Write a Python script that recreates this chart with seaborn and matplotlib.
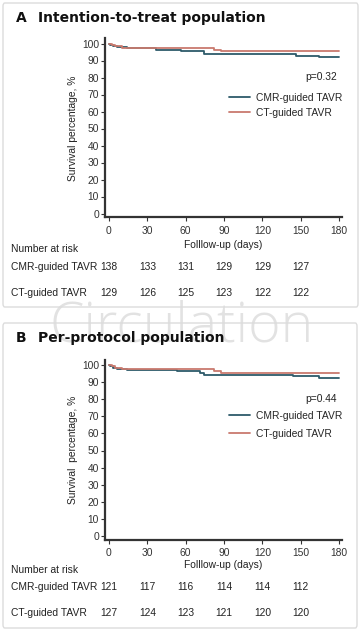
import numpy as np
import pandas as pd
import matplotlib
matplotlib.use("Agg")
import matplotlib.pyplot as plt
import seaborn as sns
import matplotlib.transforms as mtrans
from matplotlib.patches import FancyBboxPatch

groups = ["CMR-guided TAVR", "CT-guided TAVR"]

# Panel A (intention-to-treat) Kaplan-Meier steps
a_cmr_t = [0, 1, 3, 6, 14, 37, 56, 74, 146, 164, 180]
a_cmr_s = [100, 99.3, 98.6, 97.8, 97.1, 96.4, 95.6, 93.6, 92.8, 91.8, 91.8]
a_ct_t = [0, 2, 5, 10, 82, 88, 180]
a_ct_s = [100, 99.2, 98.4, 97.6, 96.4, 95.3, 95.3]

# Panel B (per-protocol)
b_cmr_t = [0, 1, 3, 6, 14, 53, 71, 74, 144, 164, 180]
b_cmr_s = [100, 99.2, 98.3, 97.5, 96.9, 96.2, 95.2, 94.3, 93.4, 92.5, 92.5]
b_ct_t = [0, 2, 5, 10, 82, 88, 180]
b_ct_s = [100, 99.2, 98.4, 97.4, 96.5, 95.4, 95.4]

risk_days = [0, 30, 60, 90, 120, 150]
a_risk_cmr = [138, 133, 131, 129, 129, 127]
a_risk_ct = [129, 126, 125, 123, 122, 122]
b_risk_cmr = [121, 117, 116, 114, 114, 112]
b_risk_ct = [127, 124, 123, 121, 120, 120]

x_ticks = [0, 30, 60, 90, 120, 150, 180]
y_ticks = [0, 10, 20, 30, 40, 50, 60, 70, 80, 90, 100]

colors = {"CMR-guided TAVR": "#2d5a6a", "CT-guided TAVR": "#c97a6e"}

sns.set_style("white")
plt.rcParams["font.family"] = ["Liberation Sans", "DejaVu Sans"]

W, H = 362, 634
fig = plt.figure(figsize=(W / 100, H / 100), dpi=100)

def fx(p):
    return p / W

def fy(p):
    return 1 - p / H

def make_df(t1, s1, t2, s2):
    d1 = pd.DataFrame({"time": t1, "surv": s1, "group": groups[0]})
    d2 = pd.DataFrame({"time": t2, "surv": s2, "group": groups[1]})
    return pd.concat([d1, d2], ignore_index=True)

panels = [
    dict(letter="A", title="Intention-to-treat population",
         df=make_df(a_cmr_t, a_cmr_s, a_ct_t, a_ct_s),
         risk=(a_risk_cmr, a_risk_ct), p="p=0.32",
         box=(3, 3, 358, 307), title_y=18, y100=43.5, y0=213.5,
         ylabel="Survival percentage, %", xlab_y=245, nar_y=249,
         r1_y=267, r2_y=293.5, p_y=77, leg_y=93, leg_sp=0.45),
    dict(letter="B", title="Per-protocol population",
         df=make_df(b_cmr_t, b_cmr_s, b_ct_t, b_ct_s),
         risk=(b_risk_cmr, b_risk_ct), p="p=0.44",
         box=(3, 323, 357, 628), title_y=338, y100=365, y0=536,
         ylabel="Survival  percentage, %", xlab_y=565, nar_y=570,
         r1_y=587, r2_y=613, p_y=399, leg_y=411, leg_sp=0.75),
]

x_lo, x_hi = -3, 182.5
y_lo, y_hi = -2.3, 103
x0_pix, x180_pix = 109, 339

# watermark
fig.text(fx(182), fy(342), "Circulation", fontsize=40, color="#e2e2e2",
         family=["Open Sans", "DejaVu Sans"], fontweight="light",
         ha="center", va="baseline", zorder=0)

FS = 7.4
TITLE_FONT = ["DejaVu Sans"]

for P in panels:
    x0, y0b, x1, y1b = P["box"]
    fig.patches.append(FancyBboxPatch((fx(x0), fy(y1b)), fx(x1 - x0), (y1b - y0b) / H,
                                      boxstyle="round,pad=0,rounding_size=0.005",
                                      transform=fig.transFigure, fill=False,
                                      edgecolor="#dcdcdc", linewidth=1.0))
    fig.text(fx(15.5), fy(P["title_y"]), P["letter"], fontsize=10, fontweight="bold",
             family=TITLE_FONT, ha="left", va="center", color="#111111")
    fig.text(fx(38), fy(P["title_y"]), P["title"], fontsize=10, fontweight="bold",
             family=TITLE_FONT, ha="left", va="center", color="#111111")

    ppx = (x180_pix - x0_pix) / 180.0
    ppy = (P["y0"] - P["y100"]) / 100.0
    left = x0_pix + x_lo * ppx
    right = x0_pix + x_hi * ppx
    top = P["y100"] - (y_hi - 100) * ppy
    bottom = P["y0"] - y_lo * ppy
    ax = fig.add_axes([fx(left), fy(bottom), fx(right - left), (bottom - top) / H])

    sns.lineplot(data=P["df"], x="time", y="surv", hue="group", hue_order=groups,
                 palette=colors, estimator=None, drawstyle="steps-post",
                 linewidth=1.3, ax=ax)
    ax.set_xlim(x_lo, x_hi)
    ax.set_ylim(y_lo, y_hi)
    ax.set_xticks(x_ticks)
    ax.set_yticks(y_ticks)
    ax.tick_params(axis="both", labelsize=FS, length=3, width=0.8, direction="out",
                   colors="#333333", pad=1.5, left=True, bottom=True)
    ax.tick_params(axis="x", pad=3)
    for s in ["top", "right"]:
        ax.spines[s].set_visible(False)
    for s in ["left", "bottom"]:
        ax.spines[s].set_linewidth(1.6)
        ax.spines[s].set_color("#333333")
    ax.set_xlabel("")
    ax.set_ylabel(P["ylabel"], fontsize=FS, color="#222222", labelpad=3)
    ax.set_facecolor("none")

    handles, labels = ax.get_legend_handles_labels()
    ax.legend(handles, labels, loc="upper left", bbox_to_anchor=(fx(229), fy(P["leg_y"])),
              bbox_transform=fig.transFigure, frameon=False, fontsize=FS,
              handlelength=2.0, handletextpad=0.6, labelspacing=P["leg_sp"], borderpad=0,
              borderaxespad=0)

    fig.text(fx(337), fy(P["p_y"]), P["p"], fontsize=FS, ha="right", va="center",
             color="#222222")
    fig.text(fx(223), fy(P["xlab_y"]), "Folllow-up (days)", fontsize=FS, ha="center",
             va="center", color="#222222")
    fig.text(fx(11), fy(P["nar_y"]), "Number at risk", fontsize=FS, ha="left",
             va="center", color="#222222")

    tr = mtrans.blended_transform_factory(ax.transData, fig.transFigure)
    for row_y, name, vals in [(P["r1_y"], groups[0], P["risk"][0]),
                              (P["r2_y"], groups[1], P["risk"][1])]:
        fig.text(fx(11), fy(row_y), name, fontsize=FS, ha="left", va="center",
                 color="#222222")
        for d, v in zip(risk_days, vals):
            ax.text(d, fy(row_y), str(v), transform=tr, fontsize=FS, ha="center",
                    va="center", color="#222222", clip_on=False)

fig.savefig("out.png", dpi=100)
